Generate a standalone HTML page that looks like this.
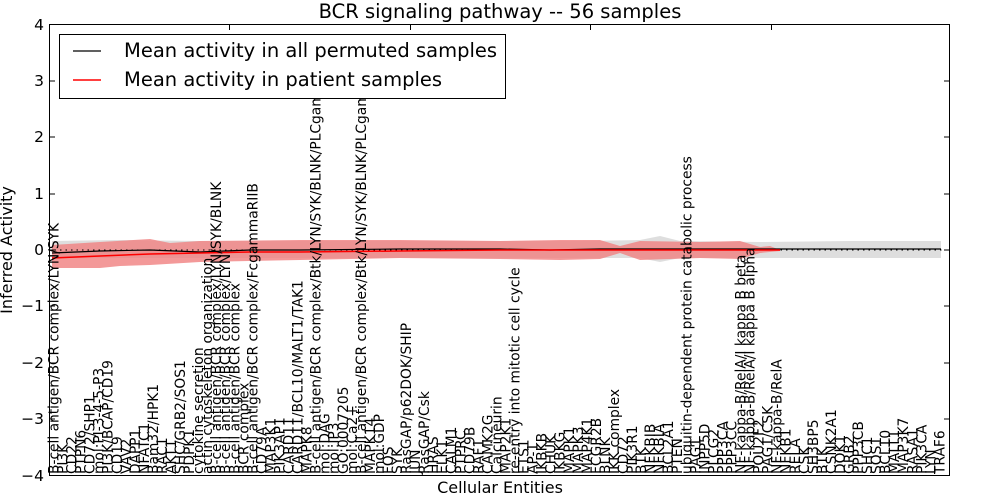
<!DOCTYPE html>
<html><head><meta charset="utf-8"><style>
html,body{margin:0;padding:0;background:#fff;width:1000px;height:500px;overflow:hidden}
svg{display:block;font-family:"DejaVu Sans","Liberation Sans",sans-serif}
</style></head><body>
<svg width="1000" height="500" viewBox="0 0 1000 500" xmlns="http://www.w3.org/2000/svg">
<rect width="1000" height="500" fill="#fff"/>
<!-- bands -->
<path d="M52,241 L120,240 L200,241 L300,241 L400,241 L500,241 L580,241 L640,240 L660,236 L680,241 L760,242 L850,241 L941,241 L941,258 L850,258 L760,258 L680,258 L660,262 L640,258 L580,258 L400,258 L200,258 L52,258 Z" fill="#d8d8d8" opacity="0.85"/>
<path d="M52,245 L100,242 L150,239 L170,243 L200,241 L300,240 L400,240 L500,241 L560,240 L600,240 L620,246 L640,241 L700,242 L740,241 L760,247 L770,246 L780,250 L780,251 L760,253 L740,259 L700,258 L640,260 L620,253 L600,259 L560,260 L500,259 L400,258 L300,260 L200,262 L150,265 L120,266 L100,268 L52,268 Z" fill="#f08080" opacity="0.8"/>
<line x1="49" y1="250" x2="949" y2="250" stroke="#000" stroke-width="1" stroke-dasharray="1.5,4"/>
<polyline points="52,253 100,251 150,250 200,252 250,250 300,250 400,249 500,249 550,250 600,249 941,249" fill="none" stroke="#000" stroke-width="1.2"/>
<polyline points="52,258 100,256 150,254 200,253 250,252 300,252 400,251 500,250 600,250 700,250 780,250" fill="none" stroke="#f00" stroke-width="1.5"/>
<!-- labels -->
<g font-size="13.8" fill="#000">
<text transform="translate(58.5,474) rotate(-90)">B-cell antigen/BCR complex/LYN/SYK</text>
<text transform="translate(67.5,474) rotate(-90)">PI3K</text>
<text transform="translate(76.6,474) rotate(-90)">CD22</text>
<text transform="translate(85.6,474) rotate(-90)">PTPN6</text>
<text transform="translate(94.7,474) rotate(-90)">CD72/SHP1</text>
<text transform="translate(103.7,474) rotate(-90)">mol:PI-3-4-5-P3</text>
<text transform="translate(112.7,474) rotate(-90)">PI3K/BCAP/CD19</text>
<text transform="translate(121.8,474) rotate(-90)">CD19</text>
<text transform="translate(130.8,474) rotate(-90)">VAV2</text>
<text transform="translate(139.8,474) rotate(-90)">DAPP1</text>
<text transform="translate(148.9,474) rotate(-90)">NFATC1</text>
<text transform="translate(157.9,474) rotate(-90)">Bam32/HPK1</text>
<text transform="translate(167.0,474) rotate(-90)">RAC1</text>
<text transform="translate(176.0,474) rotate(-90)">AKT1</text>
<text transform="translate(185.0,474) rotate(-90)">SHC/GRB2/SOS1</text>
<text transform="translate(194.1,474) rotate(-90)">PDPK1</text>
<text transform="translate(203.1,474) rotate(-90)">cytokine secretion</text>
<text transform="translate(212.2,474) rotate(-90)">actin cytoskeleton organization</text>
<text transform="translate(221.2,474) rotate(-90)">B-cell antigen/BCR complex/LYN/SYK/BLNK</text>
<text transform="translate(230.2,474) rotate(-90)">B-cell antigen/BCR complex/LYN</text>
<text transform="translate(239.3,474) rotate(-90)">B-cell antigen/BCR complex</text>
<text transform="translate(248.3,474) rotate(-90)">BCR complex</text>
<text transform="translate(257.4,474) rotate(-90)">B-cell antigen/BCR complex/FcgammaRIIB</text>
<text transform="translate(266.4,474) rotate(-90)">CD79A</text>
<text transform="translate(275.4,474) rotate(-90)">MAP3K1</text>
<text transform="translate(284.5,474) rotate(-90)">PIK3AP1</text>
<text transform="translate(293.5,474) rotate(-90)">CARD11</text>
<text transform="translate(302.6,474) rotate(-90)">CARD11/BCL10/MALT1/TAK1</text>
<text transform="translate(311.6,474) rotate(-90)">MAPK8</text>
<text transform="translate(320.6,474) rotate(-90)">B-cell antigen/BCR complex/Btk/LYN/SYK/BLNK/PLCgamma2</text>
<text transform="translate(329.7,474) rotate(-90)">mol:DAG</text>
<text transform="translate(338.7,474) rotate(-90)">mol:IP3</text>
<text transform="translate(347.8,474) rotate(-90)">GO:0007205</text>
<text transform="translate(356.8,474) rotate(-90)">mol:Ca2+</text>
<text transform="translate(365.8,474) rotate(-90)">B-cell antigen/BCR complex/Btk/LYN/SYK/BLNK/PLCgamma2</text>
<text transform="translate(374.9,474) rotate(-90)">MAPK14</text>
<text transform="translate(383.9,474) rotate(-90)">mol:GDP</text>
<text transform="translate(393.0,474) rotate(-90)">FOS</text>
<text transform="translate(402.0,474) rotate(-90)">SYK</text>
<text transform="translate(411.0,474) rotate(-90)">RasGAP/p62DOK/SHIP</text>
<text transform="translate(420.1,474) rotate(-90)">JUN</text>
<text transform="translate(429.1,474) rotate(-90)">RasGAP/Csk</text>
<text transform="translate(438.2,474) rotate(-90)">HRAS</text>
<text transform="translate(447.2,474) rotate(-90)">ELK1</text>
<text transform="translate(456.2,474) rotate(-90)">CALM1</text>
<text transform="translate(465.3,474) rotate(-90)">PTPRC</text>
<text transform="translate(474.3,474) rotate(-90)">CD79B</text>
<text transform="translate(483.4,474) rotate(-90)">RAF1</text>
<text transform="translate(492.4,474) rotate(-90)">CAMK2G</text>
<text transform="translate(501.4,474) rotate(-90)">Calcineurin</text>
<text transform="translate(510.5,474) rotate(-90)">MAP2K1</text>
<text transform="translate(519.5,474) rotate(-90)">re-entry into mitotic cell cycle</text>
<text transform="translate(528.6,474) rotate(-90)">ETS1</text>
<text transform="translate(537.6,474) rotate(-90)">AP-1</text>
<text transform="translate(546.6,474) rotate(-90)">IKBKB</text>
<text transform="translate(555.7,474) rotate(-90)">CHUK</text>
<text transform="translate(564.7,474) rotate(-90)">IKBKG</text>
<text transform="translate(573.8,474) rotate(-90)">MAPK1</text>
<text transform="translate(582.8,474) rotate(-90)">MAPK3</text>
<text transform="translate(591.8,474) rotate(-90)">MAP4K1</text>
<text transform="translate(600.9,474) rotate(-90)">FCGR2B</text>
<text transform="translate(609.9,474) rotate(-90)">BLNK</text>
<text transform="translate(619.0,474) rotate(-90)">IKK complex</text>
<text transform="translate(628.0,474) rotate(-90)">CD72</text>
<text transform="translate(637.0,474) rotate(-90)">PIK3R1</text>
<text transform="translate(646.1,474) rotate(-90)">BTK</text>
<text transform="translate(655.1,474) rotate(-90)">NFKBIB</text>
<text transform="translate(664.2,474) rotate(-90)">NFKBIA</text>
<text transform="translate(673.2,474) rotate(-90)">BCL2A1</text>
<text transform="translate(682.2,474) rotate(-90)">PTEN</text>
<text transform="translate(691.3,474) rotate(-90)">ubiquitin-dependent protein catabolic process</text>
<text transform="translate(700.3,474) rotate(-90)">PAG1</text>
<text transform="translate(709.4,474) rotate(-90)">INPP5D</text>
<text transform="translate(718.4,474) rotate(-90)">PLCG2</text>
<text transform="translate(727.4,474) rotate(-90)">PPP3CA</text>
<text transform="translate(736.5,474) rotate(-90)">PPP3CC</text>
<text transform="translate(745.5,474) rotate(-90)">NF-kappa-B/RelA/I kappa B beta</text>
<text transform="translate(754.6,474) rotate(-90)">NF-kappa-B/RelA/I kappa B alpha</text>
<text transform="translate(763.6,474) rotate(-90)">POU2F2</text>
<text transform="translate(772.6,474) rotate(-90)">PAG1/CSK</text>
<text transform="translate(781.7,474) rotate(-90)">NF-kappa-B/RelA</text>
<text transform="translate(790.7,474) rotate(-90)">NFKB1</text>
<text transform="translate(799.8,474) rotate(-90)">RELA</text>
<text transform="translate(808.8,474) rotate(-90)">CSK</text>
<text transform="translate(817.8,474) rotate(-90)">SH3BP5</text>
<text transform="translate(826.9,474) rotate(-90)">BTK</text>
<text transform="translate(835.9,474) rotate(-90)">CSNK2A1</text>
<text transform="translate(845.0,474) rotate(-90)">DOK1</text>
<text transform="translate(854.0,474) rotate(-90)">GRB2</text>
<text transform="translate(863.0,474) rotate(-90)">PPP3CB</text>
<text transform="translate(872.1,474) rotate(-90)">SHC1</text>
<text transform="translate(881.1,474) rotate(-90)">SOS1</text>
<text transform="translate(890.2,474) rotate(-90)">BCL10</text>
<text transform="translate(899.2,474) rotate(-90)">MALT1</text>
<text transform="translate(908.2,474) rotate(-90)">MAP3K7</text>
<text transform="translate(917.3,474) rotate(-90)">RASA1</text>
<text transform="translate(926.3,474) rotate(-90)">PIK3CA</text>
<text transform="translate(935.4,474) rotate(-90)">LYN</text>
<text transform="translate(944.4,474) rotate(-90)">TRAF6</text>
</g>
<!-- axes frame -->
<rect x="49.5" y="24.5" width="900" height="451" fill="none" stroke="#000" stroke-width="1"/>
<g stroke="#000" stroke-width="1">
<line x1="49" y1="81" x2="55" y2="81"/><line x1="49" y1="137" x2="55" y2="137"/><line x1="49" y1="194" x2="55" y2="194"/><line x1="49" y1="250" x2="55" y2="250"/><line x1="49" y1="306" x2="55" y2="306"/><line x1="49" y1="363" x2="55" y2="363"/><line x1="49" y1="419" x2="55" y2="419"/>
<line x1="944" y1="81" x2="950" y2="81"/><line x1="944" y1="137" x2="950" y2="137"/><line x1="944" y1="194" x2="950" y2="194"/><line x1="944" y1="250" x2="950" y2="250"/><line x1="944" y1="306" x2="950" y2="306"/><line x1="944" y1="363" x2="950" y2="363"/><line x1="944" y1="419" x2="950" y2="419"/>
<line x1="229.5" y1="24" x2="229.5" y2="30"/><line x1="410.5" y1="24" x2="410.5" y2="30"/><line x1="590.5" y1="24" x2="590.5" y2="30"/><line x1="771.5" y1="24" x2="771.5" y2="30"/>
</g>
<g font-size="15.5" text-anchor="end" fill="#000">
<text x="44" y="30">4</text><text x="44" y="86">3</text><text x="44" y="142">2</text><text x="44" y="199">1</text><text x="44" y="255">0</text><text x="44" y="311">−1</text><text x="44" y="368">−2</text><text x="44" y="424">−3</text><text x="44" y="481">−4</text>
</g>
<text x="500" y="18" font-size="19.5" text-anchor="middle">BCR signaling pathway -- 56 samples</text>
<text x="500" y="493" font-size="16" text-anchor="middle">Cellular Entities</text>
<text transform="translate(12,250) rotate(-90)" font-size="16" text-anchor="middle">Inferred Activity</text>
<!-- legend -->
<rect x="59.5" y="34.5" width="446" height="64" fill="#fff" stroke="#000" stroke-width="1"/>
<line x1="73" y1="51" x2="101" y2="51" stroke="#000" stroke-width="1.2"/>
<line x1="73" y1="80" x2="101" y2="80" stroke="#f00" stroke-width="1.5"/>
<text x="124" y="57" font-size="19.5">Mean activity in all permuted samples</text>
<text x="124" y="86" font-size="19.5">Mean activity in patient samples</text>
</svg>
</body></html>
